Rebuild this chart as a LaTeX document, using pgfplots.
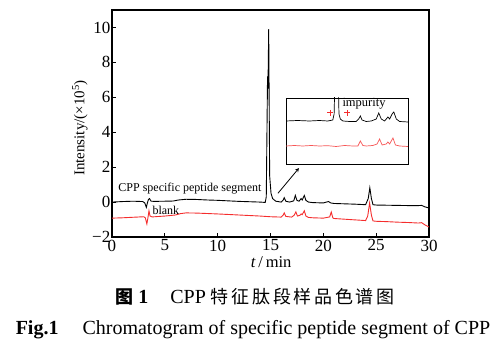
\documentclass[border=0pt]{standalone}
\usepackage{pgfplots}
\pgfplotsset{compat=1.18}
\usepackage{fontspec}
\setmainfont{Liberation Serif}
\newfontfamily\cjk{Noto Sans CJK SC}
\definecolor{tracered}{RGB}{245,45,45}
\begin{document}
\begin{tikzpicture}
\useasboundingbox (-112pt,-121pt) rectangle (391pt,237pt);
\begin{axis}[
  at={(0,0)}, anchor=south west,
  scale only axis, width=317pt, height=227pt,
  xmin=0, xmax=30, ymin=-2, ymax=11,
  axis line style={line width=1.1pt},
  tick pos=left, tick align=inside,
  major tick length=4pt,
  tick style={line width=0.9pt, black},
  xtick={0,5,10,15,20,25,30},
  xticklabels={0,5,10,15,20,25,30},
  ytick={-2,0,2,4,6,8,10},
  yticklabels={−2,0,2,4,6,8,10},
  tick label style={font=\fontsize{17}{20}\selectfont},
  yticklabel style={inner sep=1.5pt},
  xticklabel style={inner sep=2.5pt},
  xlabel={\textit{t}\,/\,min},
  ylabel={Intensity/(×10\textsuperscript{5})},
  xlabel style={font=\fontsize{16.5}{19}\selectfont, at={(axis description cs:0.502,-0.11)}, anchor=center},
  ylabel style={font=\fontsize{15}{18}\selectfont, at={(axis description cs:-0.101,0.48)}, anchor=center},
]
% CPP specific peptide segment
\addplot[black, line width=0.9pt] coordinates {
(0,0.0) (1,0.03) (2,0.05) (2.9,0.03) (3.1,-0.05) (3.25,-0.3) (3.35,-0.05)
(3.45,0.15) (3.55,0.2) (3.7,0.05) (4,0.04) (5,0.05) (5.8,0.06) (6.3,0.12)
(7,0.16) (8,0.15) (9,0.12) (10,0.1) (11,0.07) (12,0.04) (13,0.02) (14,0.0)
(14.5,-0.02) (14.6,0.3) (14.72,7.2) (14.76,6.5) (14.83,9.9) (14.92,1.5)
(15.05,0.5) (15.2,0.2) (15.5,0.05) (16,0.0) (16.2,0.12) (16.3,0.25)
(16.45,0.05) (16.8,0.0) (17.2,0.07) (17.35,0.38) (17.5,0.1) (17.7,0.05)
(17.9,0.2) (18.0,0.12) (18.2,0.38) (18.35,0.1) (18.6,0.0) (19,-0.03)
(20,-0.05) (20.3,0.0) (20.5,0.03) (20.7,-0.05) (21,-0.08) (22,-0.1)
(23,-0.12) (24,-0.15) (24.25,0.2) (24.4,0.82) (24.55,0.2) (24.7,-0.15)
(25,-0.17) (26,-0.18) (27,-0.19) (28,-0.2) (29,-0.2) (29.3,-0.19)
(29.6,-0.27) (30,-0.34)
};
% blank
\addplot[tracered, line width=0.9pt] coordinates {
(0,-0.92) (1,-0.9) (2,-0.87) (3,-0.84) (3.15,-0.9) (3.3,-1.25) (3.4,-0.9)
(3.5,-0.5) (3.6,-0.8) (3.8,-0.85) (5,-0.8) (6,-0.74) (6.5,-0.66) (7,-0.62)
(8,-0.63) (10,-0.68) (12,-0.74) (14,-0.8) (15,-0.84) (16,-0.86)
(16.2,-0.75) (16.3,-0.62) (16.45,-0.82) (17,-0.86) (17.25,-0.75)
(17.4,-0.56) (17.55,-0.8) (17.8,-0.75) (17.9,-0.68) (18.0,-0.72)
(18.2,-0.5) (18.35,-0.8) (18.6,-0.88) (19,-0.9) (20,-0.92) (20.6,-0.85)
(20.75,-0.57) (20.9,-0.9) (21,-0.94) (22,-0.98) (23,-1.02) (24,-1.06)
(24.2,-0.8) (24.38,-0.05) (24.55,-0.75) (24.7,-1.08) (25,-1.1) (26,-1.12)
(27,-1.15) (28,-1.17) (29,-1.2) (29.3,-1.18) (29.6,-1.3) (30,-1.43)
};
\node[font=\fontsize{12}{14}\selectfont, inner sep=0pt] at (axis cs:7.38,0.8) {CPP specific peptide segment};
\node[font=\fontsize{12}{14}\selectfont, inner sep=0pt] at (axis cs:5.1,-0.46) {blank};
\draw[-stealth, line width=0.8pt] (axis cs:15.7,0.5) -- (axis cs:17.7,1.95);
\end{axis}
\begin{axis}[
  at={(174pt,73pt)}, anchor=south west,
  scale only axis, width=122pt, height=66pt,
  xmin=11.8, xmax=19.1, ymin=0, ymax=66,
  xtick=\empty, ytick=\empty,
  axis line style={line width=0.9pt},
  axis background/.style={fill=white},
]
\addplot[black, line width=0.7pt] coordinates {
(11.8,43) (12.5,43.5) (13.2,43) (13.8,43.5) (14.3,43) (14.6,44) (14.68,50)
(14.72,80) (14.93,80) (14.97,50) (15.05,45) (15.2,43) (15.6,42.5) (16.0,42.5)
(16.15,45) (16.25,48) (16.35,44) (16.6,42.5) (16.9,43) (17.2,45) (17.35,51)
(17.5,45) (17.7,43) (17.8,45) (17.9,47) (18.0,45) (18.15,50) (18.25,52)
(18.4,45) (18.6,42.5) (19.1,42)
};
\addplot[tracered!80, line width=0.7pt] coordinates {
(11.8,18) (12.3,18.5) (12.8,18) (13.3,18.5) (13.8,18) (14.3,18.3) (14.8,17.5)
(15.3,18.5) (15.8,18) (16.1,18) (16.25,23) (16.4,18.5) (16.6,18) (17.0,18.5)
(17.25,20) (17.4,25) (17.55,19) (17.8,20) (17.9,22) (18.0,20) (18.2,26)
(18.35,19) (18.6,18) (19.1,17.5)
};
\addplot[only marks, mark=+, mark size=3pt, tracered, line width=1pt] coordinates {(14.44,51) (15.45,51)};
\node[font=\fontsize{12.5}{14}\selectfont, inner sep=0pt] at (axis cs:16.47,60.5) {impurity};
\end{axis}
\node[font=\fontsize{20}{22}\selectfont] at (143pt,-60pt)
  {{\cjk\fontsize{18}{22}\selectfont\bfseries 图}\hspace{5pt}{\bfseries 1}\hspace{22pt}CPP\hspace{5pt}{\cjk\fontsize{18}{22}\selectfont 特\hspace{2.7pt}征\hspace{2.7pt}肽\hspace{2.7pt}段\hspace{2.7pt}样\hspace{2.7pt}品\hspace{2.7pt}色\hspace{2.7pt}谱\hspace{2.7pt}图}};
\node[font=\fontsize{20}{24}\selectfont] at (141pt,-93pt)
  {{\bfseries Fig.1}\hspace{24pt}Chromatogram of specific peptide segment of CPP};
\end{tikzpicture}
\end{document}
